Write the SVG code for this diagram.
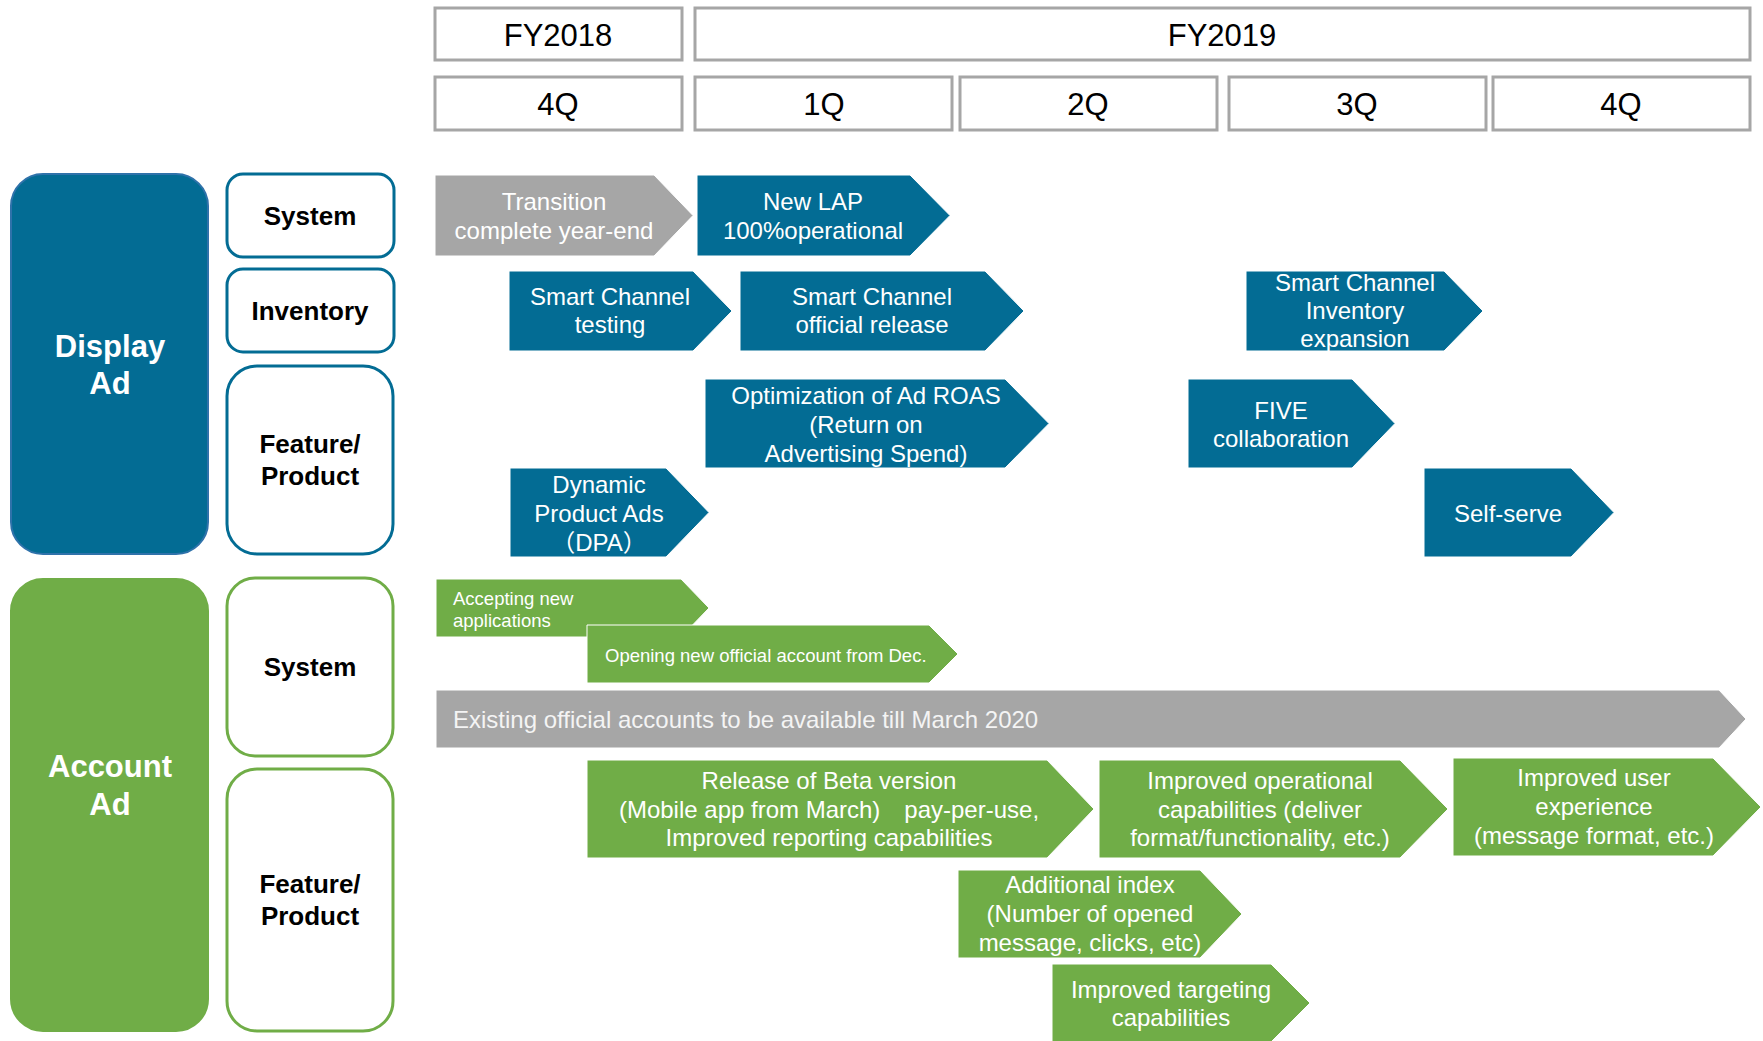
<svg xmlns="http://www.w3.org/2000/svg" width="1763" height="1041" viewBox="0 0 1763 1041">
<style>
text{font-family:"Liberation Sans",Arial,"Noto Sans CJK JP",sans-serif;}
.hdr{fill:#fff;stroke:#a6a6a6;stroke-width:3}
.ht{font-size:31px;fill:#000;text-anchor:middle}
.big-b{fill:#036c94;stroke:#2f72aa;stroke-width:2}
.big-g{fill:#70ad47;stroke:#70ad47;stroke-width:2}
.bt{font-size:31px;font-weight:bold;fill:#fff;text-anchor:middle}
.sub-b{fill:#fff;stroke:#036c94;stroke-width:3}
.sub-g{fill:#fff;stroke:#70ad47;stroke-width:3}
.st{font-size:26px;font-weight:bold;fill:#000;text-anchor:middle}
.cb{fill:#036c94;stroke:#fff;stroke-width:1}
.cg{fill:#70ad47;stroke:#fff;stroke-width:1}
.cy{fill:#a6a6a6;stroke:#fff;stroke-width:1}
.ct{font-size:24px;fill:#fff;text-anchor:middle}
.cs{font-size:18.5px;fill:#fff}
</style>
<rect width="1763" height="1041" fill="#fff"/>

<g id="hdr-fy2018"><rect class="hdr" x="435" y="8" width="247" height="52"/><text class="ht" x="558" y="46">FY2018</text></g>
<g id="hdr-fy2019"><rect class="hdr" x="695" y="8" width="1055" height="52"/><text class="ht" x="1222" y="46">FY2019</text></g>
<g id="hdr-4q-2018"><rect class="hdr" x="435" y="77" width="247" height="53"/><text class="ht" x="558" y="115">4Q</text></g>
<g id="hdr-1q"><rect class="hdr" x="695" y="77" width="257" height="53"/><text class="ht" x="824" y="115">1Q</text></g>
<g id="hdr-2q"><rect class="hdr" x="960" y="77" width="257" height="53"/><text class="ht" x="1088" y="115">2Q</text></g>
<g id="hdr-3q"><rect class="hdr" x="1229" y="77" width="257" height="53"/><text class="ht" x="1357" y="115">3Q</text></g>
<g id="hdr-4q-2019"><rect class="hdr" x="1493" y="77" width="257" height="53"/><text class="ht" x="1621" y="115">4Q</text></g>

<g id="display-ad"><rect class="big-b" x="11" y="174" width="197" height="380" rx="32"/><text class="bt" x="110" y="357">Display</text><text class="bt" x="110" y="394">Ad</text></g>
<g id="display-system"><rect class="sub-b" x="227" y="174" width="167" height="83" rx="16"/><text class="st" x="310" y="225">System</text></g>
<g id="display-inventory"><rect class="sub-b" x="227" y="269" width="167" height="83" rx="16"/><text class="st" x="310" y="320">Inventory</text></g>
<g id="display-feature"><rect class="sub-b" x="227" y="366" width="166" height="188" rx="30"/><text class="st" x="310" y="453">Feature/</text><text class="st" x="310" y="485">Product</text></g>

<g id="account-ad"><rect class="big-g" x="11" y="579" width="197" height="452" rx="32"/><text class="bt" x="110" y="777">Account</text><text class="bt" x="110" y="815">Ad</text></g>
<g id="account-system"><rect class="sub-g" x="227" y="578" width="166" height="178" rx="28"/><text class="st" x="310" y="676">System</text></g>
<g id="account-feature"><rect class="sub-g" x="227" y="769" width="166" height="262" rx="30"/><text class="st" x="310" y="893">Feature/</text><text class="st" x="310" y="925">Product</text></g>

<g id="transition"><polygon class="cy" points="435,175 654,175 693,215.5 654,256 435,256"/><text class="ct" x="554" y="210">Transition</text><text class="ct" x="554" y="239">complete year-end</text></g>
<g id="new-lap"><polygon class="cb" points="697,175 910,175 950,215.5 910,256 697,256"/><text class="ct" x="813" y="210">New LAP</text><text class="ct" x="813" y="239">100%operational</text></g>
<g id="sc-testing"><polygon class="cb" points="509,271 693,271 732,311 693,351 509,351"/><text class="ct" x="610" y="305">Smart Channel</text><text class="ct" x="610" y="333">testing</text></g>
<g id="sc-official"><polygon class="cb" points="740,271 985,271 1024,311 985,351 740,351"/><text class="ct" x="872" y="305">Smart Channel</text><text class="ct" x="872" y="333">official release</text></g>
<g id="sc-inventory"><polygon class="cb" points="1246,271 1444,271 1483,311 1444,351 1246,351"/><text class="ct" x="1355" y="291">Smart Channel</text><text class="ct" x="1355" y="319">Inventory</text><text class="ct" x="1355" y="347">expansion</text></g>
<g id="optimization"><polygon class="cb" points="705,379 1005,379 1049,423.5 1005,468 705,468"/><text class="ct" x="866" y="404">Optimization of Ad ROAS</text><text class="ct" x="866" y="433">(Return on</text><text class="ct" x="866" y="462">Advertising Spend)</text></g>
<g id="five"><polygon class="cb" points="1188,379 1352,379 1395,423.5 1352,468 1188,468"/><text class="ct" x="1281" y="419">FIVE</text><text class="ct" x="1281" y="447">collaboration</text></g>
<g id="dpa"><polygon class="cb" points="510,468 666,468 709,512.5 666,557 510,557"/><text class="ct" x="599" y="493">Dynamic</text><text class="ct" x="599" y="522">Product Ads</text><text class="ct" x="599" y="551">（DPA）</text></g>
<g id="self-serve"><polygon class="cb" points="1424,468 1571,468 1614,512.5 1571,557 1424,557"/><text class="ct" x="1508" y="522">Self-serve</text></g>

<g id="accepting"><polygon class="cg" points="436,579 681,579 709,608 681,637 436,637"/><text class="cs" x="453" y="605">Accepting new</text><text class="cs" x="453" y="627">applications</text></g>
<g id="opening"><polygon class="cg" points="587,625 929,625 958,654 929,683 587,683"/><text class="cs" x="605" y="662">Opening new official account from Dec.</text></g>
<g id="existing"><polygon class="cy" points="436,690 1719,690 1746,719 1719,748 436,748"/><text class="ct" x="453" y="728" style="text-anchor:start;fill:#f4f4f4">Existing official accounts to be available till March 2020</text></g>
<g id="beta"><polygon class="cg" points="587,760 1047,760 1094,809 1047,858 587,858"/><text class="ct" x="829" y="789">Release of Beta version</text><text class="ct" x="829" y="818">(Mobile app from March)　pay-per-use,</text><text class="ct" x="829" y="846">Improved reporting capabilities</text></g>
<g id="operational"><polygon class="cg" points="1099,760 1400,760 1448,809 1400,858 1099,858"/><text class="ct" x="1260" y="789">Improved operational</text><text class="ct" x="1260" y="818">capabilities (deliver</text><text class="ct" x="1260" y="846">format/functionality, etc.)</text></g>
<g id="user-experience"><polygon class="cg" points="1453,758 1713,758 1761,807 1713,856 1453,856"/><text class="ct" x="1594" y="786">Improved user</text><text class="ct" x="1594" y="815">experience</text><text class="ct" x="1594" y="844">(message format, etc.)</text></g>
<g id="additional-index"><polygon class="cg" points="958,870 1200,870 1242,914 1200,958 958,958"/><text class="ct" x="1090" y="893">Additional index</text><text class="ct" x="1090" y="922">(Number of opened</text><text class="ct" x="1090" y="951">message, clicks, etc)</text></g>
<g id="targeting"><polygon class="cg" points="1052,964 1271,964 1310,1003 1271,1042 1052,1042"/><text class="ct" x="1171" y="998">Improved targeting</text><text class="ct" x="1171" y="1026">capabilities</text></g>
</svg>
